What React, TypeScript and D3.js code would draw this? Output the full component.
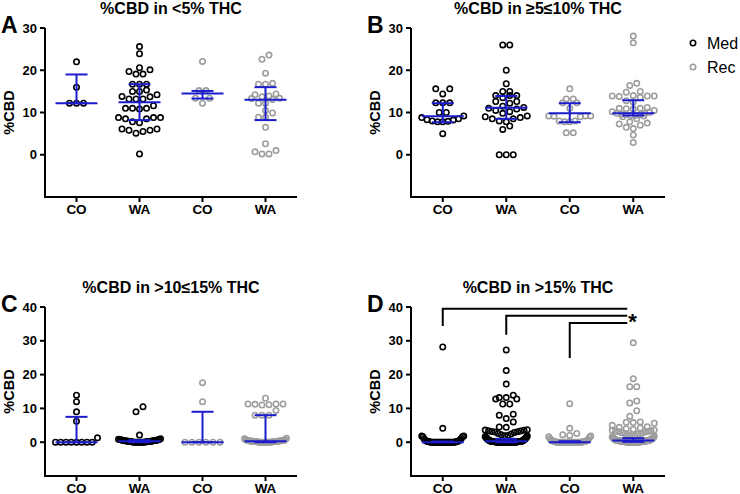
import React from "react";
import * as d3 from "d3";

const W = 740;
const H = 494;
const FONT = "'Liberation Sans', Arial, Helvetica, sans-serif";

const categories = ["CO", "WA", "CO", "WA"];
const seriesNames = ["Med", "Rec"];
const seriesOfCategory = [0, 0, 1, 1];
const seriesColors = ["#000000", "#9d9d9d"];
const barColor = "#1c1ccc";

// panel A: %CBD in <5% THC
const aCoMed = [22, 16, 12.2, 12.2, 12.2];
const aWaMed = [25.6, 23.9, 20.6, 19.7, 19.1, 19.1, 20.1, 16.7, 16.7, 16.7, 15.0, 15.3, 15.0, 13.8, 13.2, 13.2, 13.2,
  13.7, 14.2, 11.0, 11.0, 10.8, 11.0, 11.6, 8.8, 8.8, 8.5, 7.6, 7.8, 8.5, 8.8, 6.1, 5.8, 5.5, 5.1, 5.8, 6.1, 0.2];
const aCoRec = [22.1, 15.2, 15.2, 13.4, 13.4, 12.2];
const aWaRec = [23.6, 22.6, 19.3, 16.9, 16.7, 16.7, 14.4, 14.2, 13.9, 13.7, 13.4, 13.3, 13.1, 12.2, 12.2, 10.5, 9.9,
  8.9, 8.9, 6.5, 2.6, 1.0, 0.7, 0.2, 0.2];
// [median, lower, upper]
const aStats = [[12.2, 12.2, 19], [12.4, 8.2, 16.7], [14.5, 13.3, 15.1], [13, 8.2, 16]];

// panel B: %CBD in >=5<=10% THC
const bCoMed = [15.6, 15.6, 14.4, 12.3, 12.3, 12.3, 10.0, 10.0, 9.2, 8.8, 8.5, 8.2, 8.0, 7.8, 7.8, 7.9, 8.3, 5.0];
const bWaMed = [26, 26, 20, 16.8, 15, 15, 14, 14, 14, 13.5, 12.6, 12.6, 12.2, 11.5, 11.2, 11.0, 10.8, 10.5, 10.2,
  9.8, 9.2, 9.0, 8.8, 8.5, 8.5, 8.0, 7.8, 6.8, 6.0, 0, 0, 0];
const bCoRec = [15.6, 13.2, 13.2, 12.3, 12.3, 11.0, 9.2, 9.2, 9.0, 9.1, 9.2, 8.0, 7.8, 7.8, 8.0, 5.2, 5.2];
const bWaRec = [28.1, 26.5, 16.9, 16.4, 15.0, 14.8, 14.0, 13.9, 13.8, 13.9, 13.9, 13.6, 12.8, 12.5, 11.2, 11.0,
  10.8, 11.0, 10.9, 10.5, 10.2, 10.0, 9.8, 9.8, 9.6, 9.5, 9.5, 9.3, 9.3, 9.2, 9.0, 8.5, 7.8, 7.5, 7.0, 6.5, 6.2,
  7.3, 4.7, 2.9];
const bStats = [[9.1, 7.7, 12.2], [11.1, 8.5, 13.9], [9.8, 7.7, 12.2], [9.8, 9.3, 12.9]];

// panel C: %CBD in >10<=15% THC
const cCoMed = [13.9, 12.0, 9.0, 6.2, 1.3, 0, 0, 0, 0, 0, 0, 0, 0];
const cWaMed = [10.5, 9.0, 2.1, 1.0, 0.9, 0.8, 0.8, 0.7, 0.7, 0.6, 0.6, 0.5, 0.5, 0.5, 0.4, 0.4, 0.4, 0.3, 0.3,
  0.3, 0.3, 0.2, 0.2, 0.2, 0.2, 0.1, 0.1, 0.1, 0, 0, 0, 0, 0, 0, 0, 0, 0, 0];
const cCoRec = [17.6, 12.0, 0, 0, 0, 0, 0, 0];
const cWaRec = [13.0, 11.3, 11.1, 11.0, 11.2, 11.3, 11.3, 9.4, 8.0, 8.0, 8.0, 1.2, 1.0, 0.8, 0.7, 0.6, 0.6, 0.5,
  0.5, 0.4, 0.4, 0.4, 0.3, 0.3, 0.3, 0.3, 0.3, 0.2, 0.2, 0.2, 0.2, 0.1, 0.1, 0.1, 0, 0, 0, 0, 0, 0, 0, 0, 0, 0];
const cStats = [[0, 0, 7.5], [0.3, 0, 0.6], [0, 0, 9.0], [0.3, 0, 8.0]];

// panel D: %CBD in >15% THC
const dCoMed = [28.2, 4.1, 1.8, 1.8, 1.7, 1.6, 1.2, 1.0, 0.8, 0.6, 0.5, 0.4, 0.3, 0.2, 0.2, 0.1, 0.1, 0.1,
  0, 0, 0, 0, 0, 0, 0, 0, 0, 0, 0, 0, 0, 0, 0, 0, 0, 0, 0, 0, 0, 0];
const dWaMed = [27.3, 21.2, 17.2, 13.9, 13.2, 12.8, 11.3, 11.3, 12.8, 13.2, 8.0, 8.3, 7.0, 6.0, 4.5, 4.4, 3.7, 3.6,
  3.5, 3.4, 3.3, 3.2, 3.1, 3.0, 2.9, 2.6, 2.4, 2.2, 2.0, 1.9,
  1.8, 1.7, 1.6, 1.5, 1.4, 1.3, 1.2, 1.1, 1.0, 1.0, 0.9, 0.8, 0.8, 0.7, 0.6, 0.6, 0.5, 0.5, 0.4, 0.4,
  0.3, 0.3, 0.3, 0.3, 0.3, 0.3, 0.2, 0.2, 0.2, 0.2, 0.2, 0.2, 0.2, 0.2,
  0.1, 0.1, 0.1, 0.1, 0.1, 0.1, 0.1, 0.1, 0.1, 0.1,
  0, 0, 0, 0, 0, 0, 0, 0, 0, 0, 0, 0, 0, 0, 0, 0, 0, 0, 0, 0, 0, 0, 0, 0, 0, 0, 0, 0, 0, 0, 0, 0, 0, 0, 0];
const dCoRec = [11.4, 4.1, 2.6, 2.2, 2.0, 1.8, 1.6, 1.4, 1.0, 0.8, 0.6, 0.5, 0.4, 0.3, 0.2, 0.2, 0.1, 0.1,
  0, 0, 0, 0, 0, 0, 0, 0, 0, 0, 0, 0, 0, 0, 0, 0, 0, 0, 0, 0];
const dWaRec = [29.4, 18.8, 16.4, 16.4, 12.2, 11.6, 9.3, 7.7, 6.0, 5.9, 5.8, 5.6, 5.0, 4.6, 4.4, 4.2, 4.0, 3.8,
  3.6, 3.5, 3.4, 3.3, 3.2, 3.1, 3.0, 2.8, 2.6, 2.5, 2.4, 2.2, 2.0, 1.9, 1.8, 1.6, 1.5, 1.4, 1.3, 1.2, 1.1,
  1.0, 1.0, 0.9, 0.9, 0.8, 0.8, 0.7, 0.7, 0.6, 0.6,
  0.5, 0.5, 0.5, 0.5, 0.5, 0.5, 0.4, 0.4, 0.4, 0.4, 0.4, 0.4, 0.3, 0.3, 0.3, 0.3, 0.3, 0.3,
  0.2, 0.2, 0.2, 0.2, 0.2, 0.2, 0.2, 0.2, 0.1, 0.1, 0.1, 0.1, 0.1, 0.1, 0.1, 0.1,
  0, 0, 0, 0, 0, 0, 0, 0, 0, 0, 0, 0, 0, 0, 0, 0, 0, 0, 0, 0];
const dStats = [[0, 0, 0.2], [0.3, 0, 1.0], [0, 0, 0.3], [0.5, 0.1, 1.2]];
// significance brackets in D: [from category, bracket level, drop end]
const dBrackets = [[0, 39.5, 34.4], [1, 37.4, 31.8], [2, 35.3, 24.9]];

const panels = [
  {letter: "A", title: "%CBD in <5% THC", groups: [aCoMed, aWaMed, aCoRec, aWaRec], stats: aStats,
    x0: 45, x1: 297, yTop: 28, yBot: 197, domain: [-10, 30], ticks: [0, 10, 20, 30], brackets: []},
  {letter: "B", title: "%CBD in \u22655\u226410% THC", groups: [bCoMed, bWaMed, bCoRec, bWaRec], stats: bStats,
    x0: 411, x1: 665, yTop: 28, yBot: 197, domain: [-10, 30], ticks: [0, 10, 20, 30], brackets: []},
  {letter: "C", title: "%CBD in >10\u226415% THC", groups: [cCoMed, cWaMed, cCoRec, cWaRec], stats: cStats,
    x0: 45, x1: 297, yTop: 307, yBot: 476, domain: [-10, 40], ticks: [0, 10, 20, 30, 40], brackets: []},
  {letter: "D", title: "%CBD in >15% THC", groups: [dCoMed, dWaMed, dCoRec, dWaRec], stats: dStats,
    x0: 411, x1: 665, yTop: 307, yBot: 476, domain: [-10, 40], ticks: [0, 10, 20, 30, 40], brackets: dBrackets},
];

const DIAM = 7;
const MAX_HALF = 21;

// GraphPad-like scatter: bin close values into rows, spread each row centre-out
function swarm(values: number[], y: (v: number) => number, cx: number) {
  const sorted = [...values].sort((a, b) => a - b);
  const rows: number[][] = [];
  let cur: number[] = [];
  let y0 = 0;
  sorted.forEach(v => {
    if (cur.length && Math.abs(y(v) - y0) < DIAM * 0.9) {
      cur.push(v);
    } else {
      if (cur.length) rows.push(cur);
      cur = [v];
      y0 = y(v);
    }
  });
  if (cur.length) rows.push(cur);

  const pts: {x: number, y: number}[] = [];
  rows.forEach(row => {
    const n = row.length;
    const step = n > 1 ? Math.min(DIAM, (2 * MAX_HALF) / (n - 1)) : 0;
    const slots = d3.range(n).map(j => (j - (n - 1) / 2) * step);
    const order = d3.range(n).sort((a, b) => Math.abs(slots[a]) - Math.abs(slots[b]) || slots[a] - slots[b]);
    row.forEach((v, k) => pts.push({x: cx + slots[order[k]], y: y(v)}));
  });
  return pts;
}

function Panel({p}: {p: typeof panels[number]}) {
  const x = d3.scalePoint<number>().domain(d3.range(categories.length)).range([p.x0, p.x1]).padding(0.5);
  const y = d3.scaleLinear().domain(p.domain).range([p.yBot, p.yTop]);
  const cx = (p.x0 + p.x1) / 2;
  const rightEnd = (x(3) as number) - 6;

  return (
    <g fontFamily={FONT}>
      <text x={p.x0 - 44} y={p.yTop + 5} fontSize={23} fontWeight="bold">{p.letter}</text>
      <text x={cx} y={p.yTop - 14} fontSize={16} fontWeight="bold" textAnchor="middle">{p.title}</text>
      <text transform={`translate(${p.x0 - 31},${(p.yTop + p.yBot) / 2}) rotate(-90)`} fontSize={14.5}
            fontWeight="bold" textAnchor="middle">%CBD</text>

      {/* axes */}
      <line x1={p.x0} x2={p.x0} y1={p.yTop} y2={p.yBot + 1} stroke="#000" strokeWidth={2}/>
      <line x1={p.x0 - 1} x2={p.x1} y1={p.yBot} y2={p.yBot} stroke="#000" strokeWidth={2}/>
      {p.ticks.map(t => (
        <g key={t}>
          <line x1={p.x0 - 5} x2={p.x0} y1={y(t)} y2={y(t)} stroke="#000" strokeWidth={2}/>
          <text x={p.x0 - 8} y={y(t) + 4.5} fontSize={13} fontWeight="bold" textAnchor="end">{t}</text>
        </g>
      ))}
      {categories.map((c, i) => (
        <g key={i}>
          <line x1={x(i)} x2={x(i)} y1={p.yBot} y2={p.yBot + 5} stroke="#000" strokeWidth={2}/>
          <text x={x(i)} y={p.yBot + 16.5} fontSize={13.5} fontWeight="bold" textAnchor="middle">{c}</text>
        </g>
      ))}

      {/* points */}
      {p.groups.map((vals, i) => (
        <g key={i} fill="none" stroke={seriesColors[seriesOfCategory[i]]} strokeWidth={1.6}>
          {swarm(vals, y, x(i) as number).map((pt, k) => (
            <circle key={k} cx={pt.x} cy={pt.y} r={2.7}/>
          ))}
        </g>
      ))}

      {/* median with interquartile range */}
      {p.stats.map(([med, lo, hi], i) => {
        const gx = x(i) as number;
        return (
          <g key={i} stroke={barColor} strokeWidth={2}>
            <line x1={gx} x2={gx} y1={y(lo)} y2={y(hi)}/>
            <line x1={gx - 11} x2={gx + 11} y1={y(lo)} y2={y(lo)}/>
            <line x1={gx - 11} x2={gx + 11} y1={y(hi)} y2={y(hi)}/>
            <line x1={gx - 21} x2={gx + 21} y1={y(med)} y2={y(med)}/>
          </g>
        );
      })}

      {/* significance */}
      {p.brackets.map(([from, level, drop], i) => (
        <path key={i} d={`M${x(from)},${y(drop)}V${y(level)}H${rightEnd}`} fill="none" stroke="#000"
              strokeWidth={2}/>
      ))}
      {p.brackets.length > 0 && (
        <text x={rightEnd + 1} y={y(p.brackets[1][1]) + 13} fontSize={22} fontWeight="bold">*</text>
      )}
    </g>
  );
}

export default function App() {
  return (
    <svg width={W} height={H} style={{position: "absolute", left: 0, top: 0, background: "#fff"}}>
      {panels.map(p => <Panel key={p.letter} p={p}/>)}
      <g fontFamily={FONT} fontSize={16}>
        {seriesNames.map((s, i) => (
          <g key={s}>
            <circle cx={693} cy={43 + i * 24} r={2.7} fill="none" stroke={seriesColors[i]} strokeWidth={1.6}/>
            <text x={707} y={48.5 + i * 24} fill="#000">{s}</text>
          </g>
        ))}
      </g>
    </svg>
  );
}
